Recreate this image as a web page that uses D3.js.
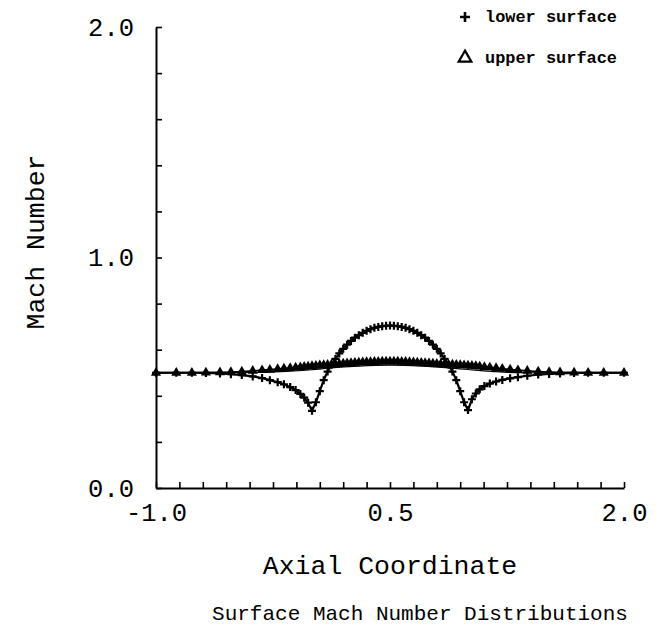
<!DOCTYPE html>
<html>
<head>
<meta charset="utf-8">
<script src="https://cdn.jsdelivr.net/npm/d3@7"></script>
<style>
  body { margin: 0; background: #fff; }
  text { font-family: "Liberation Mono", "DejaVu Sans Mono", monospace; fill: #000; }
</style>
</head>
<body>
<svg id="chart" width="660" height="633"></svg>
<script>
// grid points along the axis (stretched outside the bump, uniform on it)
const xGrid = [-1.0, -0.87, -0.77, -0.68, -0.59, -0.52, -0.45, -0.38, -0.32, -0.27, -0.22, -0.18, -0.14, -0.105, -0.075, -0.05, -0.025,
  0.0, 0.025, 0.05, 0.075, 0.1, 0.125, 0.15, 0.175, 0.2, 0.225, 0.25, 0.275, 0.3, 0.325, 0.35, 0.375, 0.4, 0.425, 0.45, 0.475, 0.5,
  0.525, 0.55, 0.575, 0.6, 0.625, 0.65, 0.675, 0.7, 0.725, 0.75, 0.775, 0.8, 0.825, 0.85, 0.875, 0.9, 0.925, 0.95, 0.975, 1.0,
  1.025, 1.05, 1.075, 1.105, 1.14, 1.18, 1.22, 1.27, 1.32, 1.38, 1.45, 1.52, 1.59, 1.68, 1.77, 1.87, 2.0];

const lowerMach = [0.500, 0.500, 0.500, 0.499, 0.497, 0.494, 0.490, 0.484, 0.477, 0.468, 0.459, 0.450, 0.438, 0.425, 0.408, 0.392, 0.370,
  0.335, 0.372, 0.420, 0.468, 0.505, 0.535, 0.560, 0.584, 0.604, 0.622, 0.638, 0.652, 0.663, 0.673, 0.682, 0.689, 0.695, 0.699, 0.702, 0.704, 0.705,
  0.704, 0.702, 0.699, 0.695, 0.689, 0.682, 0.673, 0.663, 0.652, 0.638, 0.622, 0.604, 0.584, 0.560, 0.535, 0.505, 0.468, 0.420, 0.372, 0.338,
  0.385, 0.410, 0.428, 0.442, 0.453, 0.462, 0.469, 0.476, 0.481, 0.487, 0.492, 0.495, 0.497, 0.499, 0.500, 0.500, 0.500];

const upperMach = [0.500, 0.500, 0.500, 0.501, 0.502, 0.503, 0.505, 0.508, 0.511, 0.513, 0.516, 0.518, 0.520, 0.522, 0.524, 0.526, 0.527,
  0.529, 0.530, 0.532, 0.533, 0.534, 0.536, 0.537, 0.538, 0.540, 0.541, 0.542, 0.543, 0.544, 0.545, 0.546, 0.546, 0.547, 0.547, 0.548, 0.548, 0.548,
  0.548, 0.548, 0.547, 0.547, 0.546, 0.545, 0.544, 0.543, 0.542, 0.541, 0.540, 0.539, 0.538, 0.537, 0.536, 0.535, 0.534, 0.533, 0.532, 0.531,
  0.530, 0.529, 0.527, 0.525, 0.523, 0.520, 0.517, 0.514, 0.511, 0.508, 0.505, 0.503, 0.502, 0.501, 0.500, 0.500, 0.500];

// plain line without markers, sitting just under the upper surface
const plainX = [-1.0, -0.6, -0.4, -0.2, 0.0, 0.12, 0.3, 0.5, 0.7, 0.88, 1.0, 1.15, 1.33, 1.6, 2.0];
const plainMach = [0.500, 0.500, 0.501, 0.505, 0.513, 0.521, 0.529, 0.533, 0.529, 0.521, 0.514, 0.506, 0.500, 0.500, 0.500];

const xTickLabels = [-1.0, 0.5, 2.0];
const yTickLabels = [0.0, 1.0, 2.0];
const legendNames = ["lower surface", "upper surface"];

const margin = { top: 27, right: 36, bottom: 145, left: 156 };
const width = 660 - margin.left - margin.right;
const height = 633 - margin.top - margin.bottom;

const svg = d3.select("#chart");
const chart = svg.append("g").attr("transform", `translate(${margin.left},${margin.top})`);

const xScale = d3.scaleLinear().domain([-1, 2]).range([0, width]);
const yScale = d3.scaleLinear().domain([0, 2]).range([height, 0]);

const xMinor = d3.range(0, 21).map(i => -1 + i * 0.15);
const yMinor = d3.range(0, 11).map(i => i * 0.2);

const labelled = (list) => (d) => list.some(v => Math.abs(v - d) < 1e-6) ? d.toFixed(1) : "";

const xAxis = d3.axisBottom(xScale).tickValues(xMinor).tickSizeInner(-6).tickSizeOuter(0)
  .tickPadding(20).tickFormat(labelled(xTickLabels));
const yAxis = d3.axisLeft(yScale).tickValues(yMinor).tickSizeInner(-6).tickSizeOuter(0)
  .tickPadding(22).tickFormat(labelled(yTickLabels));

const gx = chart.append("g").attr("transform", `translate(0,${height})`).call(xAxis);
const gy = chart.append("g").call(yAxis);
[gx, gy].forEach(g => {
  g.select(".domain").attr("stroke", "#000").attr("stroke-width", 2);
  g.selectAll(".tick line").attr("stroke", "#000").attr("stroke-width", 1.6);
  g.selectAll(".tick text").attr("font-family", "Liberation Mono").attr("font-size", 25.5).attr("fill", "#000");
});
gx.selectAll(".tick text").attr("dy", "0.5em");

// series
const lowerData = xGrid.map((x, i) => [x, lowerMach[i]]);
const upperData = xGrid.map((x, i) => [x, upperMach[i]]);
const plainData = plainX.map((x, i) => [x, plainMach[i]]);

const line = d3.line().x(d => xScale(d[0])).y(d => yScale(d[1]));

chart.append("path").datum(plainData)
  .attr("d", line.curve(d3.curveMonotoneX))
  .attr("fill", "none").attr("stroke", "#000").attr("stroke-width", 1.2);
line.curve(d3.curveLinear);

chart.append("path").datum(upperData).attr("d", line)
  .attr("fill", "none").attr("stroke", "#000").attr("stroke-width", 1.8);
chart.append("path").datum(lowerData).attr("d", line)
  .attr("fill", "none").attr("stroke", "#000").attr("stroke-width", 2.2);

const tri = d3.symbol().type(d3.symbolTriangle).size(44);
chart.selectAll(".up").data(upperData).enter().append("path")
  .attr("class", "up")
  .attr("transform", d => `translate(${xScale(d[0])},${yScale(d[1])})`)
  .attr("d", tri).attr("fill", "#000");

const plus = "M-4,0H4M0,-4V4";
chart.selectAll(".low").data(lowerData).enter().append("path")
  .attr("class", "low")
  .attr("transform", d => `translate(${xScale(d[0])},${yScale(d[1])})`)
  .attr("d", plus).attr("stroke", "#000").attr("stroke-width", 2.2);

// axis titles
svg.append("text").attr("x", margin.left + width / 2).attr("y", 574)
  .attr("text-anchor", "middle").attr("font-size", 26.5).text("Axial Coordinate");
svg.append("text").attr("x", 420).attr("y", 620)
  .attr("text-anchor", "middle").attr("font-size", 21).text("Surface Mach Number Distributions");
svg.append("text").attr("transform", "translate(44,242) rotate(-90)")
  .attr("text-anchor", "middle").attr("font-size", 26.5).text("Mach Number");

// legend
const legend = svg.append("g").attr("transform", "translate(465,0)");
legend.append("path").attr("transform", "translate(0,17)").attr("d", "M-5,0H5M0,-5V5")
  .attr("stroke", "#000").attr("stroke-width", 2.6);
legend.append("path").attr("transform", "translate(0,58)")
  .attr("d", d3.symbol().type(d3.symbolTriangle).size(70))
  .attr("fill", "none").attr("stroke", "#000").attr("stroke-width", 2.2);
legend.selectAll(".lg").data(legendNames).enter().append("text")
  .attr("x", 20).attr("y", (d, i) => 22 + i * 41)
  .attr("font-size", 17).attr("font-weight", "bold")
  .attr("textLength", 132).attr("lengthAdjust", "spacingAndGlyphs")
  .text(d => d);
</script>
</body>
</html>
